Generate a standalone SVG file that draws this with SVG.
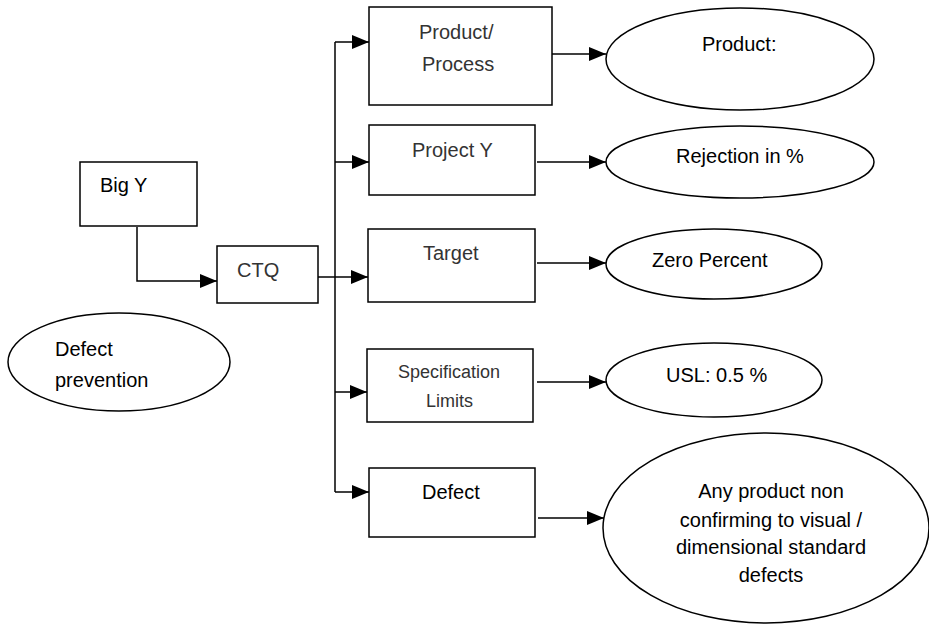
<svg xmlns="http://www.w3.org/2000/svg" width="929" height="627" viewBox="0 0 929 627">
<style>
.box{fill:#fff;stroke:#000;stroke-width:1.5}
.ell{fill:#fff;stroke:#000;stroke-width:1.5}
.t{font-family:"Liberation Sans",Arial,sans-serif;font-size:20px;fill:#000}
.g{fill:#333}
.s{font-size:18px}
.c{text-anchor:middle}
.con{fill:none;stroke:#000;stroke-width:1.5}
</style>
<defs>
<marker id="ah" markerUnits="userSpaceOnUse" markerWidth="17" markerHeight="14" refX="17" refY="7" orient="auto">
<path d="M0,0 L17,7 L0,14 Z" fill="#000"/>
</marker>
</defs>
<rect width="929" height="627" fill="#fff"/>
<g id="connectors">
<path class="con" d="M137,227 V281 H217" marker-end="url(#ah)"/>
<path class="con" d="M318,277 H368" marker-end="url(#ah)"/>
<path class="con" d="M335,42 V492"/>
<path class="con" d="M335,42 H369" marker-end="url(#ah)"/>
<path class="con" d="M335,162 H369" marker-end="url(#ah)"/>
<path class="con" d="M335,392 H367" marker-end="url(#ah)"/>
<path class="con" d="M335,492 H369" marker-end="url(#ah)"/>
<path class="con" d="M552,54 H606" marker-end="url(#ah)"/>
<path class="con" d="M537,162 H606" marker-end="url(#ah)"/>
<path class="con" d="M537,263 H606" marker-end="url(#ah)"/>
<path class="con" d="M537,382 H606" marker-end="url(#ah)"/>
<path class="con" d="M538,518 H604" marker-end="url(#ah)"/>
</g>
<g id="bigy">
<rect class="box" x="80" y="162" width="117" height="64"/>
<text class="t" x="100" y="192">Big Y</text>
</g>
<g id="ctq">
<rect class="box" x="217" y="246" width="101" height="57"/>
<text class="t g" x="237" y="277">CTQ</text>
</g>
<g id="defectprevention">
<ellipse class="ell" cx="119" cy="362" rx="111" ry="49"/>
<text class="t" x="55" y="356">Defect</text>
<text class="t" x="55" y="387">prevention</text>
</g>
<g id="productprocess">
<rect class="box" x="369" y="7" width="183" height="98"/>
<text class="t g" x="419" y="39">Product/</text>
<text class="t g" x="422" y="71">Process</text>
</g>
<g id="projecty">
<rect class="box" x="369" y="125" width="166" height="70"/>
<text class="t g" x="412" y="157">Project Y</text>
</g>
<g id="target">
<rect class="box" x="368" y="229" width="167" height="73"/>
<text class="t g" x="423" y="260">Target</text>
</g>
<g id="speclimits">
<rect class="box" x="367" y="349" width="166" height="73"/>
<text class="t g s" x="398" y="378">Specification</text>
<text class="t g s" x="426" y="407">Limits</text>
</g>
<g id="defect">
<rect class="box" x="369" y="468" width="166" height="69"/>
<text class="t" x="422" y="499">Defect</text>
</g>
<g id="product">
<ellipse class="ell" cx="740" cy="59" rx="134" ry="51"/>
<text class="t" x="702" y="51">Product:</text>
</g>
<g id="rejection">
<ellipse class="ell" cx="740" cy="162" rx="134" ry="36"/>
<text class="t" x="676" y="163">Rejection in %</text>
</g>
<g id="zeropercent">
<ellipse class="ell" cx="714" cy="264" rx="108" ry="35"/>
<text class="t" x="652" y="267">Zero Percent</text>
</g>
<g id="usl">
<ellipse class="ell" cx="714" cy="380" rx="108" ry="37"/>
<text class="t" x="666" y="382">USL: 0.5 %</text>
</g>
<g id="defectdef">
<ellipse class="ell" cx="766" cy="528" rx="163" ry="95"/>
<text class="t c" x="771" y="498">Any product non</text>
<text class="t c" x="771" y="527">confirming to visual /</text>
<text class="t c" x="771" y="554">dimensional standard</text>
<text class="t c" x="771" y="582">defects</text>
</g>
</svg>
